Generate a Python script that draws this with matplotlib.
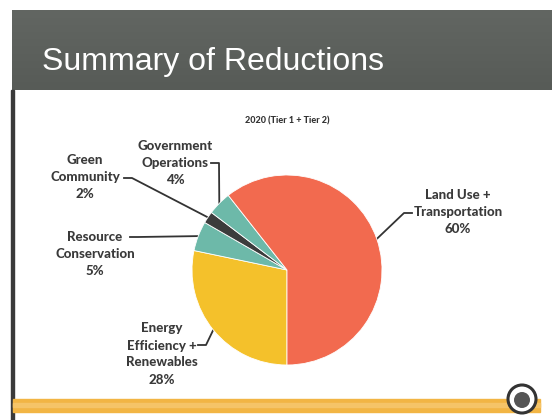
import numpy as np
import matplotlib
matplotlib.use("Agg")
import matplotlib.pyplot as plt
from matplotlib.patches import Rectangle, Circle

# ---- data ----
categories = ["Energy\nEfficiency +\nRenewables", "Resource\nConservation", "Green\nCommunity",
              "Government\nOperations", "Land Use +\nTransportation"]
values = [28, 5, 2, 4, 60]
pct_labels = ["28%", "5%", "2%", "4%", "60%"]
colors = ["#F4C12B", "#6DB9A9", "#3C3C3C", "#6DB9A9", "#F26A4F"]
title = "Summary of Reductions"
subtitle = "2020 (Tier 1 + Tier 2)"

W, H = 552, 420
fig = plt.figure(figsize=(W / 100, H / 100), dpi=100)
fig.patch.set_facecolor("white")

# overlay axes in pixel coordinates (y down)
ov = fig.add_axes([0, 0, 1, 1])
ov.set_xlim(0, W)
ov.set_ylim(H, 0)
ov.axis("off")

# header band with slight gradient
grad = np.linspace(0, 1, 100).reshape(-1, 1)
ov.imshow(grad, extent=[12, W, 90, 10], cmap=matplotlib.colors.LinearSegmentedColormap.from_list(
    "hd", ["#626662", "#575b57"]), aspect="auto", zorder=1)
ov.set_xlim(0, W)
ov.set_ylim(H, 0)
ov.text(42, 62, title, color="white", fontsize=23, family="Liberation Sans",
        va="center", ha="left", zorder=3)
# left vertical rule
ov.add_patch(Rectangle((11, 90), 2.5, 330, color="#3a3a3a", zorder=2))
# bottom orange bar
ov.add_patch(Rectangle((13, 399), 527, 13, color="#F2B544", zorder=2))
ov.add_patch(Rectangle((13, 403), 527, 4, color="#F5C468", zorder=2))
# logo circle
ov.add_patch(Circle((522, 399), 14, facecolor="white", edgecolor="#333333", lw=2.2, zorder=4))
ov.add_patch(Circle((522, 400), 8, facecolor="#555555", edgecolor="none", zorder=5))

ov.text(287, 121, subtitle, fontsize=6.5, family="Lato", fontweight="black",
        color="#333333", ha="center", va="center")

# pie axes
cx, cy, R = 287, 270, 95
pie_ax = fig.add_axes([(cx - R) / W, (H - cy - R) / H, 2 * R / W, 2 * R / H])
wedges, _ = pie_ax.pie(values, colors=colors, startangle=-90, counterclock=False,
                       wedgeprops=dict(edgecolor="white", linewidth=0.6))
pie_ax.set_xlim(-1, 1)
pie_ax.set_ylim(-1, 1)
pie_ax.set_aspect("equal")

# label layout (pixel positions of label centres and line starts)
label_pos = [(162, 354), (95, 254), (85, 177), (175, 163), (458, 212)]
line_start = [(198, 345), (130, 237), (124, 178), (211, 163), (412, 213)]
line_dir = [1, 1, 1, 1, -1]

for i, w in enumerate(wedges):
    ang = np.deg2rad((w.theta1 + w.theta2) / 2)
    px = cx + R * np.cos(ang)
    py = cy - R * np.sin(ang)
    lx, ly = label_pos[i]
    ov.text(lx, ly, categories[i] + "\n" + pct_labels[i], fontsize=9.5, family="Lato",
            fontweight="black", color="#3a3a3a", ha="center", va="center", linespacing=1.5)
    sx, sy = line_start[i]
    mx = sx + 8 * line_dir[i]
    ov.plot([sx, mx, px], [sy, sy, py], color="#333333", lw=1.3, zorder=6)

fig.savefig("out.png", dpi=100)
